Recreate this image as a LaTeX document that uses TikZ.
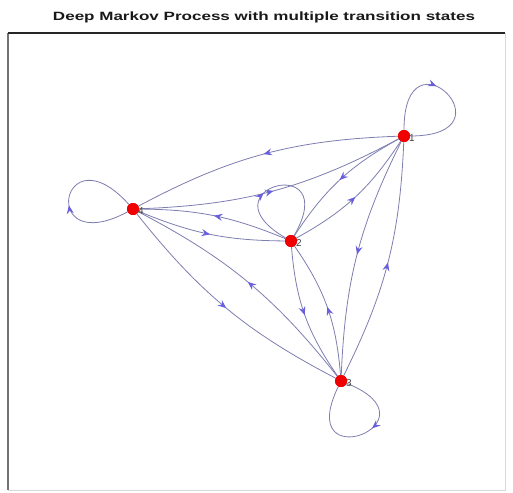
\documentclass[tikz,border=0pt]{standalone}
\usepackage{fontspec}
\setmainfont{Liberation Sans}
\usetikzlibrary{arrows.meta,decorations.markings,calc}
\definecolor{edgeblue}{RGB}{125,125,175}
\definecolor{tipblue}{RGB}{105,95,220}
\definecolor{nodered}{RGB}{240,0,0}
\tikzset{
  statenode/.style={circle,fill=nodered,draw=none,inner sep=0pt,minimum size=12pt},
  statelabel/.style={anchor=west,inner sep=0pt,font=\fontsize{10}{10}\selectfont,text=black!75},
  edgeline/.style={draw=edgeblue,line width=0.8pt},
  midarrow/.style={postaction={decorate},decoration={markings,
     mark=at position #1 with {\arrow{Stealth[length=8.5pt,width=7pt,inset=3pt,color=tipblue]}}}}
}
\begin{document}
\begin{tikzpicture}[x=1pt,y=1pt]
\useasboundingbox (0,0) rectangle (513,-492);
% frame
\draw[black!15,line width=0.8pt] (505,-33) -- (505,-490) -- (8,-490);
\draw[black!55,line width=1.3pt] (8,-33) -- (8,-490);
\draw[black!85,line width=1.1pt] (8,-33) -- (505,-33);
% title
\node[anchor=base,inner sep=0pt,text=black!90] (title) at (264,-20.7)
  {\resizebox{422pt}{8.7pt}{\bfseries Deep Markov Process with multiple transition states}};
% nodes
\node[statenode] (n1) at (404,-136) {};
\node[statenode] (n2) at (291,-241) {};
\node[statenode] (n3) at (341,-381) {};
\node[statenode] (n4) at (133,-209) {};
% edges
\begin{scope}[edgeline]
\draw[midarrow=0.5] (n1) to[bend right=13] (n4);
\draw[midarrow=0.5] (n4) to[bend right=13] (n1);
\draw[midarrow=0.5] (n1) to[bend right=14] (n2);
\draw[midarrow=0.5] (n2) to[bend right=14] (n1);
\draw[midarrow=0.5] (n1) to[bend right=12] (n3);
\draw[midarrow=0.5] (n3) to[bend right=12] (n1);
\draw[midarrow=0.5] (n2) to[bend right=15] (n3);
\draw[midarrow=0.5] (n3) to[bend right=15] (n2);
\draw[midarrow=0.5] (n4) to[bend right=12] (n3);
\draw[midarrow=0.5] (n3) to[bend right=12] (n4);
\draw[midarrow=0.5] (n4) to[bend right=11] (n2);
\draw[midarrow=0.5] (n2) to[bend right=11] (n4);
% self loops
\draw[midarrow=0.42] (n1) .. controls ($(n1)+(90:112)$) and ($(n1)+(0:112)$) .. (n1);
\draw[midarrow=0.45] (n4) .. controls ($(n4)+(208:108)$) and ($(n4)+(132:108)$) .. (n4);
\draw[midarrow=0.42] (n3) .. controls ($(n3)+(-22:110)$) and ($(n3)+(-116:110)$) .. (n3);
\draw[midarrow=0.4] (n2) .. controls ($(n2)+(150:105)$) and ($(n2)+(60:105)$) .. (n2);
\end{scope}
% redraw nodes on top
\node[statenode] at (n1) {};
\node[statenode] at (n2) {};
\node[statenode] at (n3) {};
\node[statenode] at (n4) {};
% labels
\node[statelabel] (l1) at ($(n1)+(5,-2)$) {1};
\node[statelabel] (l2) at ($(n2)+(5,-2)$) {2};
\node[statelabel] (l3) at ($(n3)+(5,-2)$) {3};
\node[statelabel] (l4) at ($(n4)+(5,-2)$) {4};
\end{tikzpicture}
\end{document}
